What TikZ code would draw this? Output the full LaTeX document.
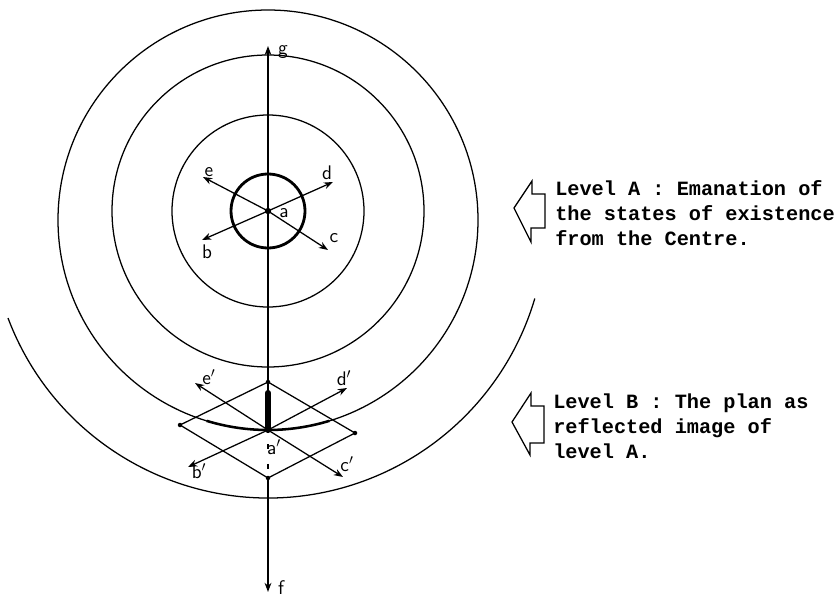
\documentclass[tikz,border=0pt]{standalone}
\usepackage{fontspec}
\newfontfamily\typewr{Liberation Mono}
\usetikzlibrary{arrows.meta}
\tikzset{
  ring/.style={line width=0.9pt},
  axis/.style={line width=0.9pt},
  arr/.style={-{Stealth[length=2.3mm,width=1.7mm]}, line width=0.9pt},
  lbl/.style={font=\sffamily\fontsize{14}{14}\selectfont, inner sep=0pt},
  caption/.style={font=\typewr\bfseries\fontsize{14.4}{17.7}\selectfont,
                  align=left, anchor=west, inner sep=0pt},
  callout/.style={line width=0.9pt, line join=miter},
  vdot/.style={circle, fill, inner sep=0pt, minimum size=3.2pt}}
\begin{document}
\begin{tikzpicture}[x=0.025cm, y=-0.025cm]
  \useasboundingbox (0,0) rectangle (840,604);
  % level A: the rings round the centre
  \coordinate (a)  at (268,211);
  \coordinate (cB) at (268,220);
  \draw[ring] (a) circle[radius=96];
  \draw[ring] (a) circle[radius=156];
  \draw[ring] (cB) circle[radius=210];
  \draw[ring] (8,318) arc[start angle=159.35, end angle=16.4, radius=278];
  \draw[line width=2pt] (a) circle[radius=37];
  \draw[line width=1.8pt] (268,220) ++(73:210) arc[start angle=73, end angle=107, radius=210];
  % level B: the plan
  \coordinate (ap) at (268,430);
  \coordinate (tv) at (268,382);
  \coordinate (lv) at (180,425);
  \coordinate (rv) at (355,433);
  \coordinate (bv) at (268,478);
  \coordinate (barTop) at (268,393);
  \draw[axis] (lv) -- (tv) -- (rv) -- (bv) -- cycle;
  \foreach \v in {tv,lv,rv,bv} \node[vdot] at (\v) {};
  % the axis g--f
  \coordinate (g) at (268,46);
  \coordinate (f) at (268,592);
  \draw[arr] (tv) -- (g);
  \draw[arr] (bv) -- (f);
  \draw[axis] (tv) -- (barTop);
  \draw[axis, dash pattern=on 3.5pt off 10.5pt, dash phase=4pt] (ap) -- (bv);
  \draw[line width=4.4pt, line cap=round] (barTop) -- (ap);
  % emanations from a
  \coordinate (e) at (203,177);
  \coordinate (d) at (333,182);
  \coordinate (c) at (328,250);
  \coordinate (b) at (202,240);
  \foreach \t in {e,d,c,b} \draw[arr] (a) -- (\t);
  \node[vdot, minimum size=4.5pt] at (a) {};
  % their reflection from a'
  \coordinate (ep) at (195,383);
  \coordinate (dp) at (347,388);
  \coordinate (cp) at (343,477);
  \coordinate (bp) at (188,467);
  \foreach \t in {ep,dp,cp,bp} \draw[arr] (ap) -- (\t);
  % letters
  \node[lbl] (lg)  at (283,52)  {g};
  \node[lbl] (lf)  at (281,588) {f};
  \node[lbl] (la)  at (284,213) {a};
  \node[lbl] (le)  at (209,172) {e};
  \node[lbl] (ld)  at (327,173) {d};
  \node[lbl] (lc)  at (334,238) {c};
  \node[lbl] (lb)  at (207,252) {b};
  \node[lbl] (lap) at (274,447) {a$'$};
  \node[lbl] (lep) at (209,377) {e$'$};
  \node[lbl] (ldp) at (344,378) {d$'$};
  \node[lbl] (lcp) at (347,464) {c$'$};
  \node[lbl] (lbp) at (199,471) {b$'$};
  % the two captions
  \draw[callout] (514,208) -- (532,181) -- (532,194) -- (545,194) -- (545,228)
    -- (531,228) -- (531,242) -- cycle;
  \node[caption] (capA) at (555,213)
    {Level A : Emanation of\\the states of existence\\from the Centre.};
  \draw[callout] (512,422) -- (531,393) -- (531,406) -- (544,406) -- (544,443)
    -- (530,443) -- (530,455) -- cycle;
  \node[caption] (capB) at (553,426)
    {Level B : The plan as\\reflected image of\\level A.};
\end{tikzpicture}
\end{document}
